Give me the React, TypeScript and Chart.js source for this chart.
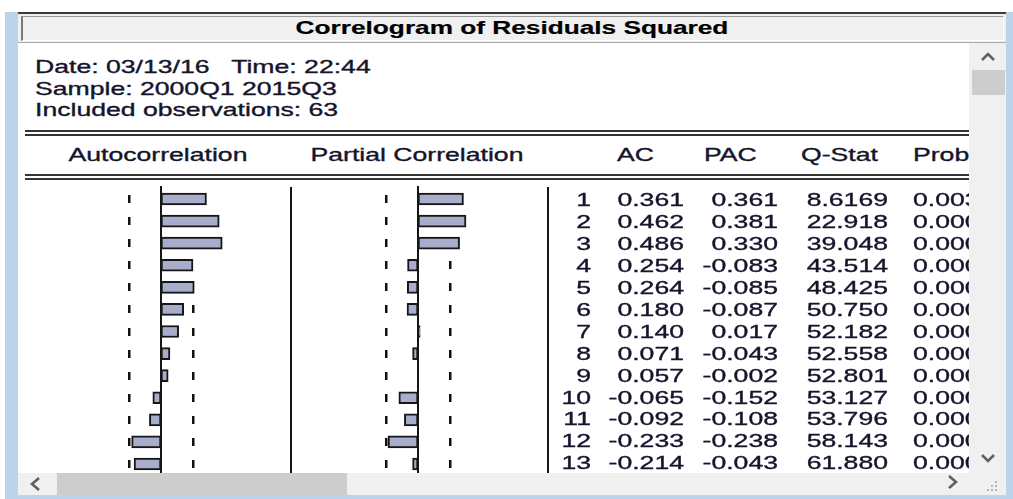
import React, { useEffect, useRef } from "react";
import { Chart, registerables } from "chart.js";

Chart.register(...registerables);

// ---------- data ----------
const titleText = "Correlogram of Residuals Squared";
const infoLines = [
  "Date: 03/13/16   Time: 22:44",
  "Sample: 2000Q1 2015Q3",
  "Included observations: 63",
];
const lags = [1, 2, 3, 4, 5, 6, 7, 8, 9, 10, 11, 12, 13];
const acValues = [0.361, 0.462, 0.486, 0.254, 0.264, 0.18, 0.14, 0.071, 0.057, -0.065, -0.092, -0.233, -0.214];
const pacValues = [0.361, 0.381, 0.33, -0.083, -0.085, -0.087, 0.017, -0.043, -0.002, -0.152, -0.108, -0.238, -0.043];
const qStats = [8.6169, 22.918, 39.048, 43.514, 48.425, 50.75, 52.182, 52.558, 52.801, 53.127, 53.796, 58.143, 61.88];
const probs = [0.003, 0.0, 0.0, 0.0, 0.0, 0.0, 0.0, 0.0, 0.0, 0.0, 0.0, 0.0, 0.0];
const confidenceBand = 0.252;
const columnHeaders = ["Autocorrelation", "Partial Correlation", "AC", "PAC", "Q-Stat", "Prob"];

// ---------- styling ----------
const INK = "#14142b";
const LINE = "#161616";
const BAR_FILL = "#a7adca";
const CHROME = "#f0f0f0";
const THUMB = "#cdcdcd";
const FRAME_BLUE = "#bcd3ea";
const FONT = "'Liberation Sans', Arial, Helvetica, sans-serif";
const FS = 19;
const SX = 1.4;
const ROW_TOP = 189.1;
const ROW_H = 21.95;

const guidesPlugin = {
  id: "correlogramGuides",
  beforeDatasetsDraw(chart: any) {
    const { ctx } = chart;
    const x = chart.scales.x;
    const y = chart.scales.y;
    const vals: number[] = chart.data.datasets[0].data;
    ctx.save();
    ctx.fillStyle = "#111111";
    vals.forEach((v, i) => {
      const cy = Math.round(y.getPixelForValue(i));
      if (v > -confidenceBand) {
        const px = x.getPixelForValue(-confidenceBand);
        ctx.fillRect(Math.round(px - 1), cy - 4, 2.5, 8);
      }
      if (v < confidenceBand) {
        const px = x.getPixelForValue(confidenceBand);
        ctx.fillRect(Math.round(px - 1), cy - 4, 2.5, 8);
      }
    });
    ctx.restore();
  },
  afterDatasetsDraw(chart: any) {
    const { ctx } = chart;
    const zx = Math.round(chart.scales.x.getPixelForValue(0));
    ctx.save();
    ctx.fillStyle = LINE;
    ctx.fillRect(zx - 1, 0, 2, chart.height);
    ctx.restore();
  },
};

function CorrelationBars({ values, left }: { values: number[]; left: number }) {
  const ref = useRef<HTMLCanvasElement | null>(null);
  useEffect(() => {
    if (!ref.current) return;
    const chart = new Chart(ref.current, {
      type: "bar",
      data: {
        labels: lags.map(String),
        datasets: [
          {
            data: values,
            backgroundColor: BAR_FILL,
            borderColor: LINE,
            borderWidth: 2,
            borderSkipped: false,
            barThickness: 12,
          } as any,
        ],
      },
      options: {
        indexAxis: "y",
        animation: false,
        responsive: true,
        maintainAspectRatio: false,
        events: [],
        layout: { padding: { top: 2, bottom: 0, left: 0, right: 0 } },
        scales: {
          x: { type: "linear", min: -1, max: 1, display: false },
          y: { type: "category", display: false, offset: true },
        },
        plugins: { legend: { display: false }, tooltip: { enabled: false } },
      } as any,
      plugins: [guidesPlugin],
    });
    return () => chart.destroy();
  }, [values]);
  return (
    <div style={{ position: "absolute", left, top: 186, width: 252, height: 289 }}>
      <canvas ref={ref} />
    </div>
  );
}

type Align = "left" | "right" | "center";
function Txt({
  x, y, align, children, bold, sx, lh,
}: { x: number; y: number; align: Align; children: React.ReactNode; bold?: boolean; sx?: number; lh?: number }) {
  const s = sx ?? SX;
  const base: React.CSSProperties = {
    position: "absolute",
    top: y,
    fontFamily: FONT,
    fontSize: FS,
    fontWeight: bold ? "bold" : "normal",
    lineHeight: `${lh ?? ROW_H}px`,
    whiteSpace: "pre",
    color: bold ? "#000" : INK,
    transform: `scaleX(${s})`,
    WebkitTextStroke: bold ? "0.2px #000" : `0.35px ${INK}`,
  } as React.CSSProperties;
  if (align === "left") {
    return <div style={{ ...base, left: x, transformOrigin: "0 50%" }}>{children}</div>;
  }
  if (align === "right") {
    return <div style={{ ...base, left: x - 400, width: 400, textAlign: "right", transformOrigin: "100% 50%" }}>{children}</div>;
  }
  return <div style={{ ...base, left: x - 400, width: 800, textAlign: "center", transformOrigin: "50% 50%" }}>{children}</div>;
}

function Column({ x, align, items }: { x: number; align: Align; items: string[] }) {
  return (
    <Txt x={x} y={ROW_TOP} align={align}>
      {items.map((t, i) => (
        <div key={i} style={{ height: ROW_H }}>{t}</div>
      ))}
    </Txt>
  );
}

function Box({ l, t, w, h, bg, extra }: { l: number; t: number; w: number; h: number; bg: string; extra?: React.CSSProperties }) {
  return <div style={{ position: "absolute", left: l, top: t, width: w, height: h, background: bg, ...extra }} />;
}

function Chevron({ cx, cy, dir }: { cx: number; cy: number; dir: "up" | "down" | "left" | "right" }) {
  let pts = "";
  if (dir === "up") pts = "1,9 7,3 13,9";
  if (dir === "down") pts = "1,4 7,10 13,4";
  if (dir === "left") pts = "10,1 3,7 10,13";
  if (dir === "right") pts = "4,1 11,7 4,13";
  return (
    <svg width={14} height={14} style={{ position: "absolute", left: cx - 7, top: cy - 7 }}>
      <polyline points={pts} fill="none" stroke="#606060" strokeWidth={2.6} />
    </svg>
  );
}

export default function App() {
  const fmt3 = (v: number) => v.toFixed(3);
  return (
    <div
      style={{
        position: "fixed",
        left: 0,
        top: 0,
        width: 1013,
        height: 499,
        overflow: "hidden",
        background: "#ffffff",
      }}
    >
      {/* window frame */}
      <Box l={5} t={12} w={13} h={487} bg={FRAME_BLUE} />
      <Box l={1006} t={12} w={7} h={487} bg={FRAME_BLUE} />
      <Box l={5} t={495} w={1008} h={4} bg={FRAME_BLUE} />

      {/* title bar */}
      <Box l={18} t={12} w={988} h={31} bg={CHROME} />
      <Box l={18} t={12} w={988} h={2} bg="#3a3a3a" />
      <Box
        l={21}
        t={16}
        w={983}
        h={25}
        bg={CHROME}
        extra={{
          boxSizing: "border-box",
          borderTop: "1px solid #9a9a9a",
          borderLeft: "2px solid #7a7a7a",
          borderBottom: "1px solid #ffffff",
          borderRight: "1px solid #ffffff",
        }}
      />
      <Box l={18} t={42} w={988} h={1} bg="#a8a8a8" />
      <Txt x={512} y={17} align="center" bold sx={1.38} lh={22}>
        {titleText}
      </Txt>

      {/* content */}
      <div style={{ position: "absolute", left: 18, top: 43, width: 951, height: 430, overflow: "hidden", background: "#fff" }}>
        <div style={{ position: "absolute", left: -18, top: -43, width: 1013, height: 499 }}>
          <Txt x={35} y={55.9} align="left" lh={21.7}>
            {infoLines.map((t, i) => (
              <div key={i}>{t}</div>
            ))}
          </Txt>

          {/* header rules */}
          <Box l={25} t={130} w={960} h={2} bg="#333" />
          <Box l={25} t={134} w={960} h={2} bg="#333" />
          <Box l={25} t={174} w={960} h={2} bg="#333" />
          <Box l={25} t={178} w={960} h={2} bg="#333" />

          {/* headers */}
          <Txt x={158} y={144.1} align="center">{columnHeaders[0]}</Txt>
          <Txt x={417} y={144.1} align="center">{columnHeaders[1]}</Txt>
          <Txt x={617} y={144.1} align="left">{columnHeaders[2]}</Txt>
          <Txt x={704} y={144.1} align="left">{columnHeaders[3]}</Txt>
          <Txt x={801} y={144.1} align="left">{columnHeaders[4]}</Txt>
          <Txt x={913} y={144.1} align="left">{columnHeaders[5]}</Txt>

          {/* panel separators */}
          <Box l={290} t={187} w={2} h={290} bg={LINE} />
          <Box l={547} t={187} w={2} h={290} bg={LINE} />

          {/* bar panels */}
          <CorrelationBars values={acValues} left={35} />
          <CorrelationBars values={pacValues} left={292} />

          {/* table columns */}
          <Column x={591} align="right" items={lags.map(String)} />
          <Column x={684} align="right" items={acValues.map(fmt3)} />
          <Column x={778} align="right" items={pacValues.map(fmt3)} />
          <Column x={888} align="right" items={qStats.map((v) => v.toPrecision(5))} />
          <Column x={913} align="left" items={probs.map(fmt3)} />
        </div>
      </div>

      {/* vertical scrollbar */}
      <Box l={969} t={43} w={37} h={430} bg={CHROME} />
      <Box l={972} t={70} w={33} h={25} bg={THUMB} />
      <Chevron cx={988} cy={58} dir="up" />
      <Chevron cx={988} cy={458} dir="down" />

      {/* horizontal scrollbar */}
      <Box l={18} t={473} w={954} h={22} bg={CHROME} />
      <Box l={57} t={473} w={290} h={22} bg={THUMB} />
      <Chevron cx={36} cy={484} dir="left" />
      <Chevron cx={952} cy={482} dir="right" />

      {/* corner + grip */}
      <Box l={972} t={473} w={34} h={22} bg={CHROME} />
      <svg width={20} height={14} style={{ position: "absolute", left: 982, top: 480 }}>
        {[
          [13, 1],
          [9, 5],
          [13, 5],
          [5, 9],
          [9, 9],
          [13, 9],
        ].map(([cx, cy], i) => (
          <rect key={i} x={cx} y={cy} width={2} height={2} fill="#b4b4b4" />
        ))}
      </svg>
    </div>
  );
}
